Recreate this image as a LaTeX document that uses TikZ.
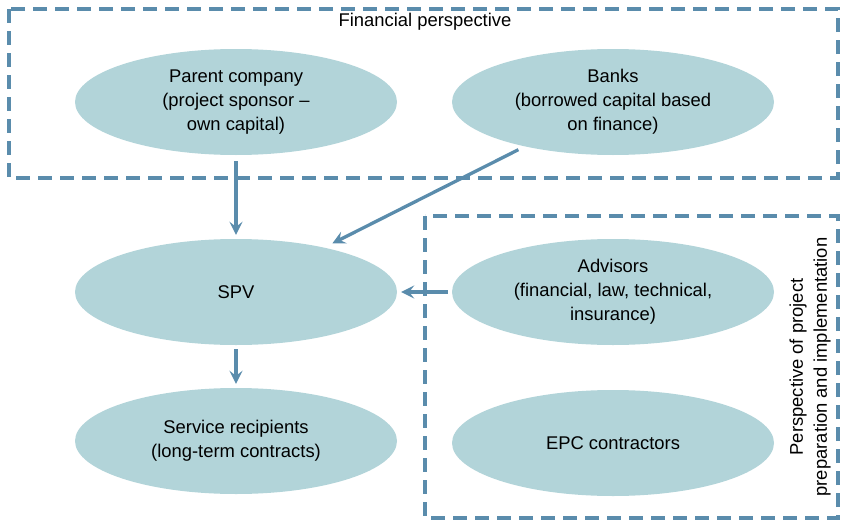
\documentclass[tikz,border=0pt]{standalone}
\usepackage{fontspec}
\setmainfont{Liberation Sans}
\usetikzlibrary{arrows.meta,shapes.geometric}
\definecolor{ellfill}{HTML}{B2D4D9}
\definecolor{linec}{HTML}{5A8CAC}
\begin{document}
\begin{tikzpicture}[x=1pt,y=-1pt,
  ell/.style={ellipse, fill=ellfill, minimum width=322pt, minimum height=106pt, inner sep=0pt, align=center, font=\fontsize{18.4}{24}\selectfont},
  dashframe/.style={draw=linec, line width=3.3pt, dash pattern=on 14pt off 8pt},
  conn/.style={draw=linec, line width=3.3pt, -{Stealth[length=13pt,width=13pt,inset=5pt]}},
  lbl/.style={font=\fontsize{18.4}{24}\selectfont, align=center}]
\useasboundingbox (0,0) rectangle (841,522);
\draw[dashframe] (9,9) rectangle (838,178);
\draw[dashframe] (425,216) rectangle (838,518);
\node[lbl] (fin) at (425,22) {Financial perspective};
\node[lbl, rotate=90] (persp) at (810,367) {Perspective of project\\preparation and implementation};
\node[ell] (parent) at (236,102) {Parent company\\(project sponsor –\\own capital)};
\node[ell] (banks) at (613,102) {Banks\\(borrowed capital based\\on finance)};
\node[ell] (spv) at (236,292) {SPV};
\node[ell] (adv) at (613,292) {Advisors\\(financial, law, technical,\\insurance)};
\node[ell] (serv) at (236,441) {Service recipients\\(long-term contracts)};
\node[ell] (epc) at (613,443) {EPC contractors};
\draw[conn, shorten <=6pt, shorten >=4pt] (parent.south) -- (spv.north);
\draw[conn, shorten <=7pt, shorten >=9pt] (banks) -- (spv);
\draw[conn, shorten <=4pt, shorten >=4pt] (adv.west) -- (spv.east);
\draw[conn, shorten <=4pt, shorten >=4pt] (spv.south) -- (serv.north);
\end{tikzpicture}
\end{document}
